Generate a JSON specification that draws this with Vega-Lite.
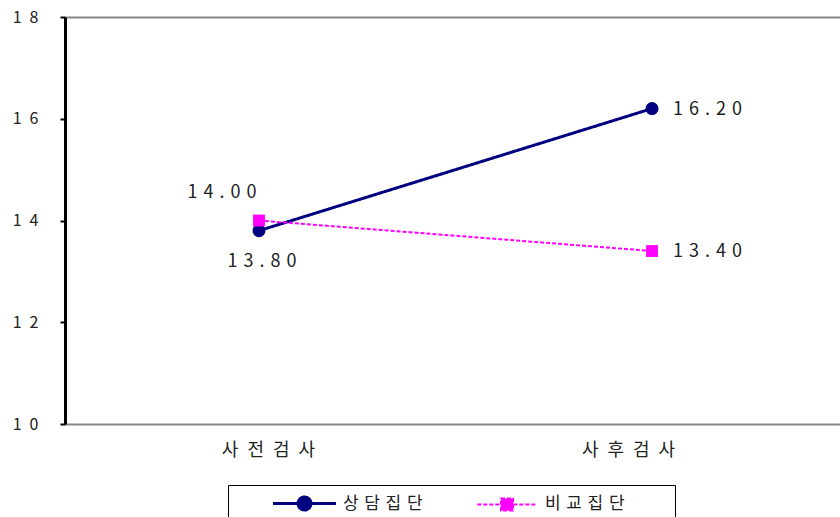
{
  "$schema": "https://vega.github.io/schema/vega-lite/v6.json",
  "autosize": {"type": "none"},
  "padding": {"left": 65, "top": 17, "right": 0, "bottom": 93},
  "width": 775,
  "height": 407,
  "background": "white",
  "config": {
    "view": {"stroke": null},
    "font": "Noto Sans CJK KR",
    "legend": {"orient": "none", "legendX": 163, "legendY": 468, "direction": "horizontal"}
  },
  "data": {"values": [
    {"test": "사전검사", "group": "상담집단", "score": 13.8},
    {"test": "사후검사", "group": "상담집단", "score": 16.2},
    {"test": "사전검사", "group": "비교집단", "score": 14.0},
    {"test": "사후검사", "group": "비교집단", "score": 13.4}
  ]},
  "encoding": {
    "x": {"field": "test", "type": "nominal", "sort": ["사전검사", "사후검사"],
      "scale": {"type": "point", "domain": ["사전검사", "사후검사"], "range": [0, 781], "padding": 0.4936},
      "axis": {"title": null, "domain": false, "ticks": false, "labelAngle": 0, "labelFontSize": 18, "labelColor": "#222", "labelPadding": 17,
        "labelExpr": "join(split(datum.label, ''), '\u2002')",
        "labelOffset": {"condition": {"test": "datum.value == '사전검사'", "value": 9}, "value": -24}}},
    "y": {"field": "score", "type": "quantitative",
      "scale": {"domain": [10, 18], "nice": false, "zero": false},
      "axis": {"title": null, "values": [10, 12, 14, 16, 18], "domainColor": "#000", "domainWidth": 3, "tickColor": "#000", "tickWidth": 2, "tickSize": 5,
        "labelFontSize": 16, "labelColor": "#222", "labelPadding": 22,
        "labelExpr": "join(split(datum.label, ''), '\u2002')",
        "grid": true, "gridColor": "#888", "gridWidth": 2,
        "gridOpacity": {"condition": {"test": "datum.value == 18 || datum.value == 10", "value": 1}, "value": 0}}}
  },
  "layer": [
    {
      "mark": {"type": "point", "filled": true, "strokeWidth": 1, "size": 4, "opacity": 1},
      "encoding": {
        "fill": {"field": "group", "type": "nominal", "scale": {"domain": ["상담집단", "비교집단"], "range": ["#000080", "#ff00ff"]},
          "legend": {"title": "\u00a0", "titleOrient": "right", "titlePadding": 42, "titleFontSize": 4, "strokeColor": "#000", "padding": 8, "symbolSize": 324, "symbolStrokeWidth": 2.5, "symbolOpacity": 1, "labelFontSize": 17, "labelColor": "#222", "columnPadding": 16, "symbolOffset": 58, "labelOffset": 28, "labelExpr": "join(split(datum.label, ''), '\u2004')"}},
        "stroke": {"field": "group", "type": "nominal", "scale": {"domain": ["상담집단", "비교집단"], "range": ["#000080", "#ff00ff"]},
          "legend": {"title": "\u00a0"}},
        "shape": {"field": "group", "type": "nominal", "scale": {"domain": ["상담집단", "비교집단"],
          "range": ["M-3.5,0L3.5,0M-0.72,0A0.72,0.72,0,1,0,0.72,0A0.72,0.72,0,1,0,-0.72,0Z", "M-3.3,0L3.3,0M-0.67,-0.67L0.67,-0.67L0.67,0.67L-0.67,0.67Z"]},
          "legend": {"title": "\u00a0"}},
        "strokeDash": {"field": "group", "type": "nominal", "scale": {"domain": ["상담집단", "비교집단"], "range": [[1, 0], [4, 2]]}, "legend": {"title": "\u00a0"}}
      }
    },
    {
      "mark": {"type": "line"},
      "encoding": {
        "color": {"field": "group", "type": "nominal", "scale": {"domain": ["상담집단", "비교집단"], "range": ["#000080", "#ff00ff"]}, "legend": null},
        "strokeDash": {"field": "group", "type": "nominal", "legend": null},
        "strokeWidth": {"field": "group", "type": "nominal", "scale": {"domain": ["상담집단", "비교집단"], "range": [3, 2]}, "legend": null}
      }
    },
    {
      "transform": [{"filter": "datum.group == '상담집단'"}],
      "mark": {"type": "point", "shape": "circle", "filled": true, "opacity": 1, "size": 170},
      "encoding": {"color": {"field": "group", "type": "nominal", "legend": null}}
    },
    {
      "transform": [{"filter": "datum.group == '비교집단'"}],
      "mark": {"type": "point", "shape": "square", "filled": true, "opacity": 1, "size": 140},
      "encoding": {"color": {"field": "group", "type": "nominal", "legend": null}}
    },
    {
      "transform": [{"filter": "datum.test == '사후검사'"}, {"calculate": "join(split(format(datum.score, '.2f'), ''), '\u2004')", "as": "lbl"}],
      "mark": {"type": "text", "align": "left", "baseline": "middle", "dx": 21, "dy": 1, "fontSize": 18, "color": "#222"},
      "encoding": {"text": {"field": "lbl"}}
    },
    {
      "transform": [{"filter": "datum.test == '사전검사' && datum.group == '상담집단'"}, {"calculate": "join(split(format(datum.score, '.2f'), ''), '\u2004')", "as": "lbl"}],
      "mark": {"type": "text", "align": "center", "baseline": "middle", "dx": 3, "dy": 31, "fontSize": 18, "color": "#222"},
      "encoding": {"text": {"field": "lbl"}}
    },
    {
      "transform": [{"filter": "datum.test == '사전검사' && datum.group == '비교집단'"}, {"calculate": "join(split(format(datum.score, '.2f'), ''), '\u2004')", "as": "lbl"}],
      "mark": {"type": "text", "align": "center", "baseline": "middle", "dx": -37, "dy": -28, "fontSize": 18, "color": "#222"},
      "encoding": {"text": {"field": "lbl"}}
    }
  ]
}
